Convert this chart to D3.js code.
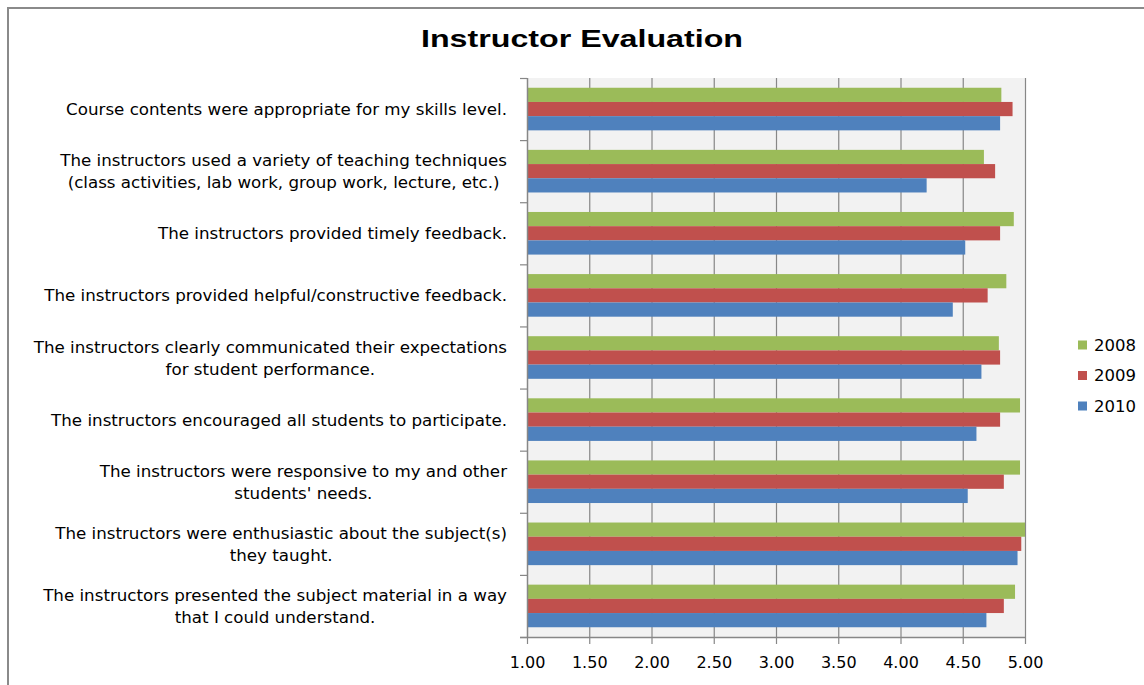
<!DOCTYPE html>
<html>
<head>
<meta charset="utf-8">
<script src="https://cdn.jsdelivr.net/npm/d3@7/dist/d3.min.js"></script>
<style>
  html, body { margin: 0; padding: 0; background: #fff; }
  svg { display: block; }
</style>
</head>
<body>
<svg id="chart" width="1144" height="685"></svg>
<script>
const categories = [
  ["Course contents were appropriate for my skills level."],
  ["The instructors used a variety of teaching techniques", "(class activities, lab work, group work, lecture, etc.)"],
  ["The instructors provided timely feedback."],
  ["The instructors provided helpful/constructive feedback."],
  ["The instructors clearly communicated their expectations", "for student performance."],
  ["The instructors encouraged all students to participate."],
  ["The instructors were responsive to my and other", "students' needs."],
  ["The instructors were enthusiastic about the subject(s)", "they taught."],
  ["The instructors presented the subject material in a way", "that I could understand."]
];
const seriesNames = ["2008", "2009", "2010"];
const v2008 = [4.81, 4.67, 4.91, 4.85, 4.79, 4.96, 4.96, 5.00, 4.92];
const v2009 = [4.90, 4.76, 4.80, 4.70, 4.80, 4.80, 4.83, 4.97, 4.83];
const v2010 = [4.80, 4.21, 4.52, 4.42, 4.65, 4.61, 4.54, 4.94, 4.69];
const xTicks = [1.00, 1.50, 2.00, 2.50, 3.00, 3.50, 4.00, 4.50, 5.00];
const titleText = "Instructor Evaluation";

const seriesValues = [v2008, v2009, v2010];
const colors = ["#9BBB59", "#C0504D", "#4F81BD"];

const svg = d3.select("#chart");
const W = 1144, H = 685;
const plot = { left: 527, right: 1025, top: 78, bottom: 637 };

// outer frame
svg.append("path")
  .attr("d", `M8,${H + 5} L8,8 L${W + 5},8`)
  .attr("fill", "none").attr("stroke", "#8a8a8a").attr("stroke-width", 2);

// title
svg.append("text")
  .attr("x", 582).attr("y", 47)
  .attr("text-anchor", "middle")
  .attr("font-family", "'Liberation Sans', Arial, sans-serif")
  .attr("font-weight", "bold")
  .attr("font-size", 24)
  .attr("textLength", 322)
  .attr("lengthAdjust", "spacingAndGlyphs")
  .attr("fill", "#000")
  .text(titleText);

const idx = d3.range(categories.length);
const x = d3.scaleLinear().domain([1, 5]).range([plot.left, plot.right]);
const y = d3.scaleBand().domain(idx).range([plot.top, plot.bottom])
  .paddingInner(0.314).paddingOuter(0.157);
const yInner = d3.scaleBand().domain(d3.range(seriesNames.length)).range([0, y.bandwidth()]);
const yEdge = d3.scaleLinear().domain([0, categories.length]).range([plot.top, plot.bottom]);

// plot background
svg.append("rect")
  .attr("x", plot.left).attr("y", plot.top)
  .attr("width", plot.right - plot.left).attr("height", plot.bottom - plot.top)
  .attr("fill", "#F2F2F2");

// gridlines
const grid = svg.append("g")
  .attr("transform", `translate(0,${plot.bottom})`)
  .call(d3.axisBottom(x).tickValues(xTicks.slice(1)).tickSize(-(plot.bottom - plot.top)).tickFormat(""));
grid.select(".domain").remove();
grid.selectAll("line").attr("stroke", "#878787").attr("stroke-width", 1.2);

// bars
const groups = svg.append("g").selectAll("g")
  .data(idx).join("g")
  .attr("transform", i => `translate(0,${y(i)})`);
groups.selectAll("rect")
  .data(i => seriesValues.map((vals, s) => ({ s, v: vals[i] })))
  .join("rect")
  .attr("x", x(1))
  .attr("y", d => yInner(d.s))
  .attr("width", d => x(d.v) - x(1))
  .attr("height", yInner.bandwidth())
  .attr("fill", d => colors[d.s]);

// x axis
const xAxis = svg.append("g")
  .attr("transform", `translate(0,${plot.bottom})`)
  .call(d3.axisBottom(x).tickValues(xTicks).tickSize(7).tickPadding(13).tickFormat(d3.format(".2f")));
xAxis.select(".domain").attr("d", `M${plot.left - 7},0.5H${plot.right}`).attr("stroke", "#878787").attr("stroke-width", 1.5);
xAxis.selectAll(".tick line").attr("stroke", "#878787").attr("stroke-width", 1.2);
xAxis.selectAll("text")
  .attr("font-family", "'DejaVu Sans', Verdana, sans-serif")
  .attr("font-size", 16).attr("fill", "#000");

// y axis (ticks at category boundaries)
const yAxis = svg.append("g")
  .attr("transform", `translate(${plot.left},0)`)
  .call(d3.axisLeft(yEdge).tickValues(d3.range(categories.length + 1)).tickSize(7).tickFormat(""));
yAxis.select(".domain").attr("d", `M0.5,${plot.top}V${plot.bottom}`).attr("stroke", "#878787").attr("stroke-width", 1.5);
yAxis.selectAll(".tick line").attr("stroke", "#878787").attr("stroke-width", 1.2);

// category labels
const labelRight = 507;
const lineGap = 22;
idx.forEach(i => {
  const lines = categories[i];
  const cy = y(i) + y.bandwidth() / 2;
  const g = svg.append("g");
  const texts = lines.map((ln, k) => g.append("text")
    .attr("y", cy + (k - (lines.length - 1) / 2) * lineGap)
    .attr("dominant-baseline", "central")
    .attr("text-anchor", "middle")
    .attr("font-family", "'DejaVu Sans', Verdana, sans-serif")
    .attr("font-size", 16.7)
    .attr("fill", "#000")
    .text(ln));
  const maxW = d3.max(texts, t => t.node().getComputedTextLength());
  texts.forEach(t => t.attr("x", labelRight - maxW / 2));
});

// legend
const legend = svg.append("g");
seriesNames.forEach((name, s) => {
  const ly = 345 + s * 30.5;
  legend.append("rect")
    .attr("x", 1078).attr("y", ly - 4.5).attr("width", 9).attr("height", 9)
    .attr("fill", colors[s]);
  legend.append("text")
    .attr("x", 1094).attr("y", ly)
    .attr("dominant-baseline", "central")
    .attr("font-family", "'DejaVu Sans', Verdana, sans-serif")
    .attr("font-size", 16.5).attr("fill", "#000")
    .text(name);
});
</script>
</body>
</html>
